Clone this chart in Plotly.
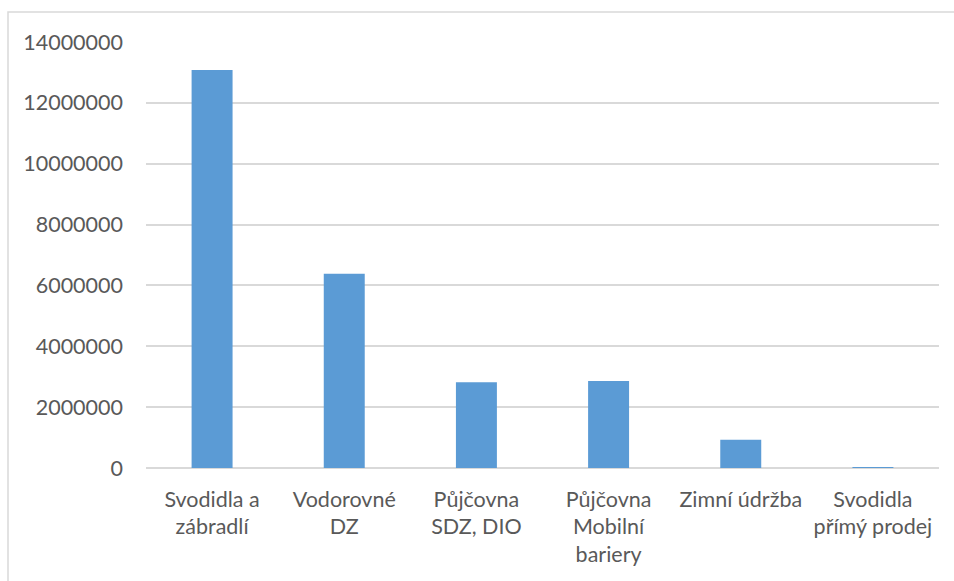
import plotly.graph_objects as go

categories = [
    "Svodidla a<br>zábradlí",
    "Vodorovné<br>DZ",
    "Půjčovna<br>SDZ, DIO",
    "Půjčovna<br>Mobilní<br>bariery",
    "Zimní údržba",
    "Svodidla<br>přímý prodej",
]
values = [13080000, 6380000, 2820000, 2860000, 925000, 20000]
y_ticks = [0, 2000000, 4000000, 6000000, 8000000, 10000000, 12000000, 14000000]

W, H = 954, 581
L, R, T, B = 146, 15, 42, 112.5
pw, ph = W - L - R, H - T - B

def px_x(x):
    return (x - L) / pw

def px_y(y):
    return (H - B - y) / ph

fig = go.Figure(
    go.Bar(
        x=categories,
        y=values,
        marker=dict(color="#5B9BD5", line=dict(width=0)),
        width=0.31,
    )
)

font = dict(family="Lato, 'Open Sans', sans-serif", size=21.5, color="#595959")

fig.update_layout(
    width=W,
    height=H,
    margin=dict(l=L, r=R, t=T, b=B, pad=0),
    paper_bgcolor="white",
    plot_bgcolor="white",
    showlegend=False,
    font=font,
    xaxis=dict(
        showgrid=False,
        showline=False,
        ticks="",
        tickfont=font,
        tickangle=0,
        ticklabelstandoff=16,
    ),
    yaxis=dict(
        range=[0, 14000000],
        tickvals=y_ticks,
        ticktext=[str(v) for v in y_ticks],
        showgrid=True,
        gridcolor="#d9d9d9",
        gridwidth=1.5,
        zeroline=True,
        zerolinecolor="#d9d9d9",
        zerolinewidth=1.5,
        showline=False,
        ticks="",
        tickfont=font,
        ticklabelstandoff=22,
    ),
    shapes=[
        dict(
            type="rect",
            xref="paper",
            yref="paper",
            x0=px_x(8),
            x1=px_x(965),
            y0=px_y(600),
            y1=px_y(12),
            line=dict(color="#d9d9d9", width=1.5),
            fillcolor="rgba(0,0,0,0)",
            layer="below",
        )
    ],
)

fig.write_html("out.html")
